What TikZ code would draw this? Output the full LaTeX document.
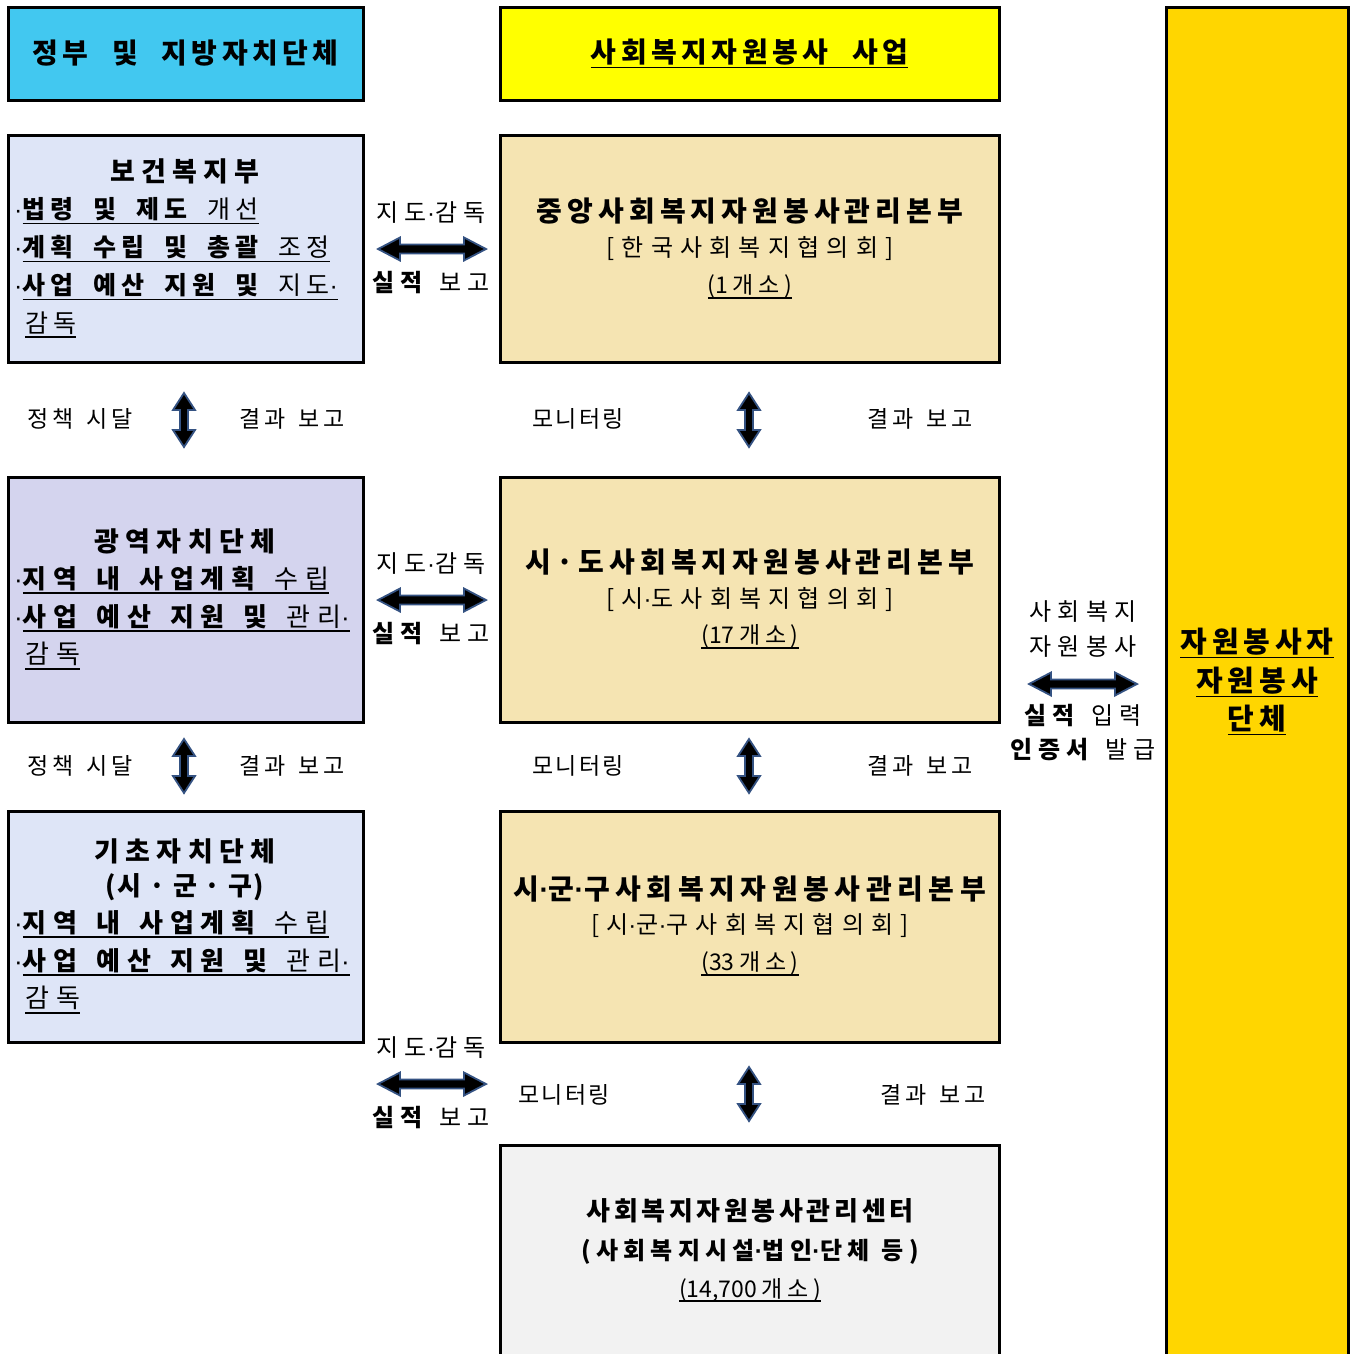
\documentclass[tikz,border=0pt]{standalone}
\usepackage{fontspec}
\setmainfont{Noto Sans CJK KR}
\newfontfamily\fDot{Liberation Sans}
\newcommand\md{{\fDot ·}}
% letter spacing between Hangul syllables via XeTeX interchar tokens
\newdimen\lsamt \lsamt=0pt
\newXeTeXintercharclass\hgclass
\newcount\hgc
\hgc="AC00
\loop \XeTeXcharclass\hgc=\hgclass \advance\hgc by 1 \ifnum\hgc<"D7A4 \repeat
\XeTeXinterchartokenstate=1
\XeTeXinterchartoks \hgclass \hgclass = {\kern\lsamt}
\XeTeXinterchartoks 0 \hgclass = {\kern\lsamt}
\XeTeXinterchartoks \hgclass 0 = {\kern\lsamt}
\XeTeXinterchartoks 1 \hgclass = {\kern\lsamt}
\XeTeXinterchartoks \hgclass 1 = {\kern\lsamt}
\XeTeXinterchartoks 2 \hgclass = {\kern\lsamt}
\XeTeXinterchartoks \hgclass 2 = {\kern\lsamt}
\XeTeXinterchartoks 3 \hgclass = {\kern\lsamt}
\XeTeXinterchartoks \hgclass 3 = {\kern\lsamt}
\newcommand\fsz[3]{\fontsize{#1}{#1}\selectfont\lsamt=#2em\relax\spaceskip=#3em\relax}
\newsavebox\ulbox
\newcommand\myul[1]{\sbox\ulbox{#1}\leavevmode\rlap{\rule[-0.22em]{\wd\ulbox}{1.6pt}}\usebox\ulbox}
\definecolor{cyanH}{RGB}{66,200,240}
\definecolor{yelH}{RGB}{255,255,0}
\definecolor{goldC}{RGB}{255,214,0}
\definecolor{lblue}{RGB}{222,229,247}
\definecolor{lav}{RGB}{212,212,238}
\definecolor{wheatB}{RGB}{245,228,178}
\definecolor{grayB}{RGB}{242,242,242}
\definecolor{arrblue}{RGB}{52,82,130}
\begin{document}
\begin{tikzpicture}[x=1pt,y=-1pt,
  box/.style={draw=black,line width=3pt,inner sep=0pt},
  txt/.style={inner sep=0pt,text=black},
  ln/.style={txt,anchor=west,font=\fsz{25}{0.2}{0.8}},
  lnb/.style={txt,anchor=west,font=\fsz{26}{0.27}{0.72}},
  ttl/.style={txt,font=\fsz{27}{0.235}{0.3}\bfseries},
  mt/.style={txt,font=\fsz{28}{0.18}{0.3}\bfseries},
  ms/.style={txt,font=\fsz{24}{0.3}{0.3}},
  cnt/.style={txt,font=\fsz{23}{0.2}{0.3}},
  lab/.style={txt,font=\fsz{24}{0.25}{0.7}},
  low/.style={txt,font=\fsz{23}{0.17}{0.55}},
  mon/.style={txt,font=\fsz{23}{0.09}{0.5}},
  col/.style={txt,font=\fsz{29}{0.17}{0.3}\bfseries},
  arrsty/.style={fill=black,draw=arrblue,line width=1.8pt,line join=miter},
  harr/.pic={\filldraw[arrsty] (-54,0) -- (-32,-11.5) -- (-32,-4.5) -- (32,-4.5) -- (32,-11.5) -- (54,0) -- (32,11.5) -- (32,4.5) -- (-32,4.5) -- (-32,11.5) -- cycle;},
  varr/.pic={\filldraw[arrsty] (0,-27) -- (11,-10) -- (4,-10) -- (4,10) -- (11,10) -- (0,27) -- (-11,10) -- (-4,10) -- (-4,-10) -- (-11,-10) -- cycle;}
]
\clip (0,0) rectangle (1354,1353);
\fill[white] (0,0) rectangle (1354,1353);

% headers
\node[box,fill=cyanH,minimum width=355pt,minimum height=93pt,font=\fsz{28}{0.16}{0.85}\bfseries] (hL) at (185.5,53.5) {정부 및 지방자치단체};
\node[box,fill=yelH,minimum width=499pt,minimum height=93pt,font=\fsz{28}{0.16}{0.85}\bfseries] (hM) at (749.5,53.5) {\myul{사회복지자원봉사 사업}};
\node[box,fill=goldC,minimum width=182pt,minimum height=1380pt] (col) at (1257,697) {};

% left boxes
\node[box,fill=lblue,minimum width=355pt,minimum height=227pt] (L1) at (185.5,248.5) {};
\node[box,fill=lav,minimum width=355pt,minimum height=245pt] (L2) at (185.5,599.5) {};
\node[box,fill=lblue,minimum width=355pt,minimum height=231pt] (L3) at (185.5,926.5) {};

% middle boxes
\node[box,fill=wheatB,minimum width=499pt,minimum height=227pt] (M1) at (749.5,248.5) {};
\node[box,fill=wheatB,minimum width=499pt,minimum height=245pt] (M2) at (749.5,599.5) {};
\node[box,fill=wheatB,minimum width=499pt,minimum height=231pt] (M3) at (749.5,926.5) {};
\node[box,fill=grayB,minimum width=499pt,minimum height=240pt] (M4) at (749.5,1265) {};

% left box 1 text
\node[ttl] (l1t) at (185,171) {보건복지부};
\node[ln] (l1a) at (14,211) {\md\myul{\textbf{법령 및 제도} 개선}};
\node[ln] (l1b) at (14,249) {\md\myul{\textbf{계획 수립 및 총괄} 조정}};
\node[ln] (l1c) at (14,287) {\md\myul{\textbf{사업 예산 지원 및} 지도\md}};
\node[ln] (l1d) at (25,325) {\myul{감독}};

% left box 2 text
\node[ttl] (l2t) at (185,541) {광역자치단체};
\node[lnb] (l2a) at (14,580) {\md\myul{\textbf{지역 내 사업계획} 수립}};
\node[lnb] (l2b) at (14,618) {\md\myul{\textbf{사업 예산 지원 및} 관리\md}};
\node[lnb] (l2c) at (25,656) {\myul{감독}};

% left box 3 text
\node[ttl] (l3t) at (185,851) {기초자치단체};
\node[txt,font=\fsz{26}{0.05}{0.3}\bfseries] (l3u) at (185,887) {(시 · 군 · 구)};
\node[lnb] (l3a) at (14,924) {\md\myul{\textbf{지역 내 사업계획} 수립}};
\node[lnb] (l3b) at (14,962) {\md\myul{\textbf{사업 예산 지원 및} 관리\md}};
\node[lnb] (l3c) at (25,1000) {\myul{감독}};

% middle texts
\node[mt] (m1t) at (750,211) {중앙사회복지자원봉사관리본부};
\node[ms] (m1a) at (750,249) {[한국사회복지협의회]};
\node[cnt] (m1b) at (750,287) {\myul{(1개소)}};
\node[mt] (m2t) at (750,562) {시·도사회복지자원봉사관리본부};
\node[ms] (m2a) at (750,600) {[시\md 도사회복지협의회]};
\node[cnt] (m2b) at (750,637) {\myul{(17개소)}};
\node[txt,font=\fsz{28}{0.2}{0.3}\bfseries] (m3t) at (750,889) {시\md 군\md 구사회복지자원봉사관리본부};
\node[ms] (m3a) at (750,926) {[시\md 군\md 구사회복지협의회]};
\node[cnt] (m3b) at (750,964) {\myul{(33개소)}};
\node[txt,font=\fsz{26}{0.14}{0.3}\bfseries] (m4t) at (750,1211) {사회복지자원봉사관리센터};
\node[txt,font=\fsz{24}{0.22}{0.5}\bfseries] (m4a) at (750,1252) {(사회복지시설\md 법인\md 단체 등)};
\node[cnt] (m4b) at (750,1290) {\myul{(14,700개소)}};

% horizontal labels and arrows between columns
\node[lab] (g1) at (431,213) {지도\md 감독};
\node[lab] (s1) at (431,283) {\textbf{실적} 보고};
\pic at (432,249) {harr};
\node[lab] (g2) at (431,564) {지도\md 감독};
\node[lab] (s2) at (431,634) {\textbf{실적} 보고};
\pic at (432,600) {harr};
\node[lab] (g3) at (431,1048) {지도\md 감독};
\node[lab] (s3) at (431,1118) {\textbf{실적} 보고};
\pic at (432,1084) {harr};

% vertical labels and arrows
\node[low] (p1) at (80,419) {정책 시달};
\node[low] (r1) at (292,419) {결과 보고};
\pic at (184,420) {varr};
\node[low] (p2) at (80,766) {정책 시달};
\node[low] (r2) at (292,766) {결과 보고};
\pic at (184,766) {varr};

\node[mon] (n1) at (578,419) {모니터링};
\node[low] (r3) at (920,419) {결과 보고};
\pic at (749,420) {varr};
\node[mon] (n2) at (578,766) {모니터링};
\node[low] (r4) at (920,766) {결과 보고};
\pic at (749,766) {varr};
\node[mon] (n3) at (564,1095) {모니터링};
\node[low] (r5) at (933,1095) {결과 보고};
\pic at (749,1094) {varr};

% right side
\node[lab] (v1) at (1083,611) {사회복지};
\node[lab] (v2) at (1083,646) {자원봉사};
\pic at (1083,684) {harr};
\node[lab] (v3) at (1083,716) {\textbf{실적} 입력};
\node[lab] (v4) at (1083,750) {\textbf{인증서} 발급};

\node[col] (c1) at (1257,643) {\myul{자원봉사자}};
\node[col] (c2) at (1257,682) {\myul{자원봉사}};
\node[col] (c3) at (1257,720) {\myul{단체}};
\end{tikzpicture}
\end{document}
